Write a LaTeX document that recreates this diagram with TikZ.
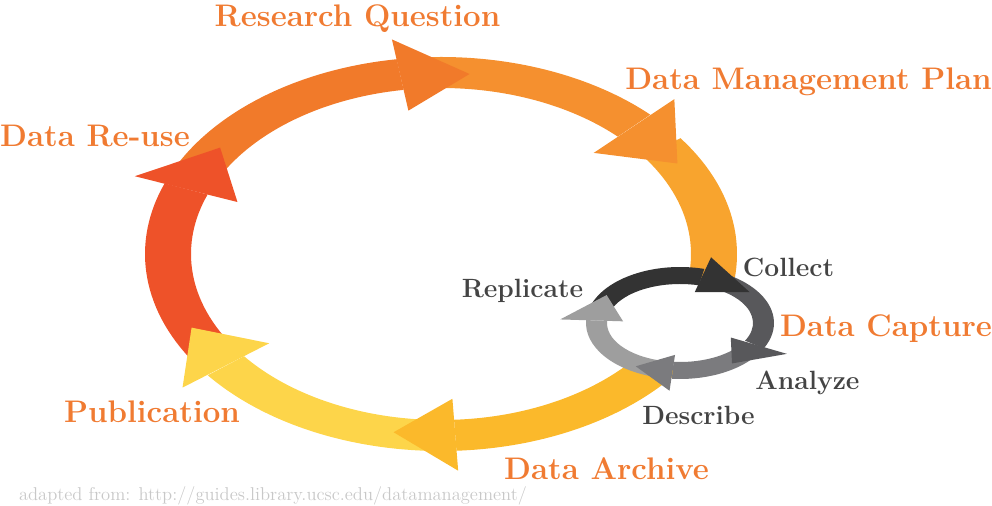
\documentclass[tikz,border=0pt]{standalone}
\usepackage{fontspec}
\usepackage{tikz}
\usetikzlibrary{calc}
\definecolor{rouge}{HTML}{EE5229}
\definecolor{orangefonce}{HTML}{F17A2A}
\definecolor{orangemoyen}{HTML}{F5902F}
\definecolor{orangeclair}{HTML}{F8A42E}
\definecolor{jaunefonce}{HTML}{FBB92B}
\definecolor{jauneclair}{HTML}{FDD54A}
\definecolor{grisA}{HTML}{333333}
\definecolor{grisB}{HTML}{58585B}
\definecolor{grisC}{HTML}{7B7B7E}
\definecolor{grisD}{HTML}{9E9E9E}
\definecolor{textorange}{HTML}{F07B32}
\definecolor{textgris}{HTML}{444444}
\definecolor{textpale}{HTML}{C8C8C8}
\tikzstyle{phase} = [inner sep=0pt, anchor=base, text=textorange, font=\fontsize{23.4}{28}\selectfont\bfseries]
\tikzstyle{sousphase} = [inner sep=0pt, anchor=base, text=textgris, font=\fontsize{19.8}{24}\selectfont\bfseries]
\tikzstyle{source} = [inner sep=0pt, anchor=base, text=textpale, font=\fontsize{13.9}{16}\selectfont]
% band of an elliptic ring: colour, from, to, outer rx, outer ry, inner rx, inner ry
\newcommand{\ringarc}[7]{%
  \fill[#1] (#2:#4 and #5) arc[start angle=#2, end angle=#3, x radius=#4, y radius=#5]
    -- (#3:#6 and #7) arc[start angle=#3, end angle=#2, x radius=#6, y radius=#7] -- cycle;}
% head of an elliptic ring: colour, base, tip, outer rx, outer ry, inner rx, inner ry
\newcommand{\ringhead}[7]{%
  \fill[#1] (#2:#4 and #5)
    -- (xyz polar cs:angle=#3, x radius={(#4+#6)/2}, y radius={(#5+#7)/2})
    -- (#2:#6 and #7) -- cycle;}

\begin{document}
\begin{tikzpicture}[x=0.75pt, y=0.75pt]

        \useasboundingbox (-441,-252) rectangle (551,254);

        % big cycle
        \ringarc{orangeclair}{36}{-20}{296}{197}{250}{166}
        \ringarc{jaunefonce}{-18}{-87}{296}{197}{250}{166}
        \ringarc{jauneclair}{-91}{-142}{296}{197}{250}{166}
        \ringarc{rouge}{212}{159}{296}{197}{250}{166}
        \ringarc{orangefonce}{153}{98.6}{296}{197}{250}{166}
        \ringarc{orangemoyen}{92}{45}{296}{197}{250}{166}

        \ringhead{orangemoyen}{45}{30}{330}{219}{216}{143}
        \ringhead{jaunefonce}{-87}{-100}{328}{217}{218}{145}
        \ringhead{jauneclair}{-142}{-156}{328}{217}{218}{145}
        \ringhead{rouge}{159}{144}{328}{217}{218}{145}
        \ringhead{orangefonce}{98.6}{84}{328}{217}{218}{145}

        % small cycle
        \begin{scope}[shift={(239,-69)}]
            \fill[white] (0,0) ellipse [x radius=80, y radius=45];

            \ringarc{grisA}{168}{75}{94}{56}{73}{39}
            \ringarc{grisB}{65}{-27}{94}{56}{73}{39}
            \ringarc{grisC}{-37}{-95}{94}{56}{73}{39}
            \ringarc{grisD}{255}{177}{94}{56}{73}{39}

            \ringhead{grisA}{75}{38}{120}{68}{57}{32}
            \ringhead{grisB}{-27}{-54}{120}{68}{57}{32}
            \ringhead{grisC}{-95}{-120}{120}{68}{57}{32}
            \ringhead{grisD}{177}{146}{120}{68}{57}{32}
        \end{scope}

        \node (question) [phase] at (-83.5,227) {Research Question};
        \node (plan)     [phase] at (367.5,164) {Data Management Plan};
        \node (reuse)    [phase] at (-346,107) {Data Re-use};
        \node (capture)  [phase] at (445,-83) {Data Capture};
        \node (archive)  [phase] at (165.5,-225) {Data Archive};
        \node (publi)    [phase] at (-289,-169) {Publication};

        \node (collect)   [sousphase] at (347.5,-23) {Collect};
        \node (analyze)   [sousphase] at (366.5,-136) {Analyze};
        \node (describe)  [sousphase] at (257.5,-171) {Describe};
        \node (replicate) [sousphase] at (81.5,-44) {Replicate};

        \node (src) [source] at (-168,-246) {adapted from: http://guides.library.ucsc.edu/datamanagement/};

    \end{tikzpicture}
\end{document}
